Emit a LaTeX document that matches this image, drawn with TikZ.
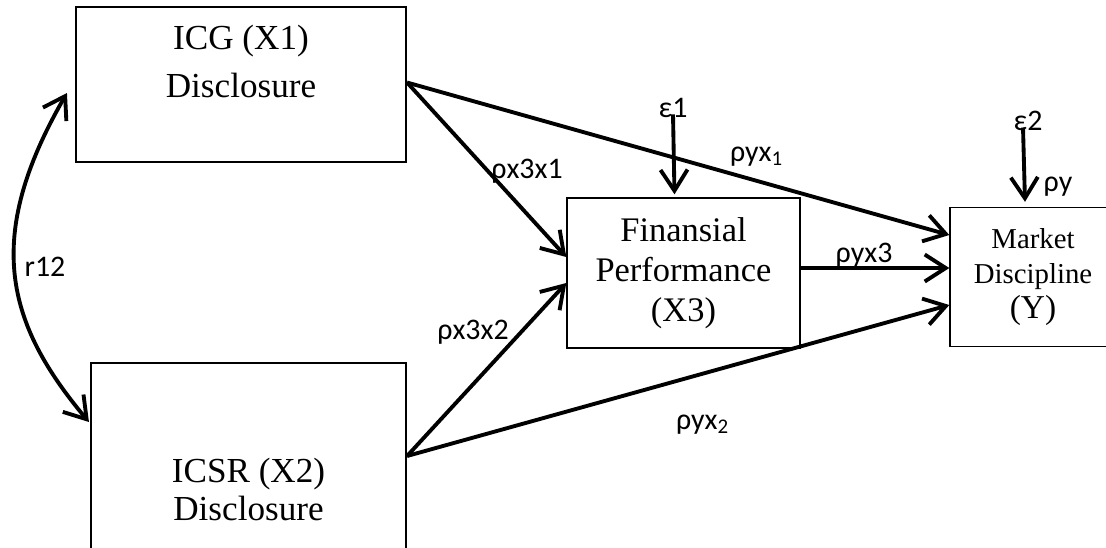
\documentclass[tikz,border=0pt]{standalone}
\usepackage{fontspec}
\setmainfont{Liberation Serif}
\newfontfamily\lblfont{Carlito}
\usetikzlibrary{arrows.meta,positioning}

\begin{document}
\begin{tikzpicture}[>={Straight Barb[length=2.1mm,width=2.7mm]},
  box/.style={rectangle, draw, line width=0.6pt, inner sep=0pt},
  txt/.style={align=center, inner sep=0pt},
  lbl/.style={font=\lblfont\fontsize{8.5}{10}\selectfont, inner sep=0pt},
  arr/.style={->, line width=1.1pt}]

\useasboundingbox (0,0) rectangle (11.06,5.47);

% Variabili
\node[box, minimum width=3.30cm, minimum height=1.55cm] (icg) at (2.41,4.625) {};
\node[txt, below=1.8mm of icg.north, font=\fontsize{10}{13.7}\selectfont] (icgtxt) {ICG (X1)\\Disclosure};
\node[box, minimum width=3.15cm, minimum height=1.86cm] (icsr) at (2.485,0.91) {};
\node[txt, below=9.5mm of icsr.north, font=\fontsize{10}{10.8}\selectfont] (icsrtxt) {ICSR (X2)\\Disclosure};
\node[box, line width=0.4pt, minimum width=2.33cm, minimum height=1.50cm, txt, font=\fontsize{9.8}{11.4}\selectfont] (fp) at (6.835,2.74) {Finansial\\Performance\\(X3)};
\node[box, line width=0.4pt, minimum width=1.66cm, minimum height=1.39cm, txt, font=\fontsize{8.2}{10}\selectfont] (md) at (10.33,2.70) {Market\\Discipline\\{\fontsize{9.5}{10}\selectfont (Y)}};

% Errori
\node[lbl] (e1) at (6.73,4.39) {ε1};
\node[lbl] (e2) at (10.28,4.26) {ε2};

% Coefficienti
\node[lbl] (r12) at (0.45,2.80) {r12};
\node[lbl] (px31) at (5.27,3.76) {ρx3x1};
\node[lbl] (px32) at (4.73,2.15) {ρx3x2};
\node[lbl] (pyx1) at (7.57,3.90) {ρyx\textsubscript{1}};
\node[lbl] (pyx2) at (7.03,1.22) {ρyx\textsubscript{2}};
\node[lbl] (pyx3) at (8.64,2.92) {ρyx3};
\node[lbl] (py) at (10.58,3.60) {ρy};

% Frecce
\draw[arr, <->] ([xshift=-0.1mm,yshift=3.4mm]icsr.west) to[out=130, in=-120, out looseness=1.0, in looseness=1.3] ([xshift=-0.8mm,yshift=-0.85mm]icg.west);
\draw[arr] ([yshift=0.2mm]icg.east) -- ([yshift=1.6mm]fp.west);
\draw[arr] ([yshift=0.2mm]icg.east) -- ([yshift=4.2mm]md.west);
\draw[arr] (icsr.east) -- ([yshift=-1mm]fp.west);
\draw[arr] (icsr.east) -- ([yshift=-2.8mm]md.west);
\draw[arr] ([yshift=0.5mm]fp.east) -- ([yshift=0.9mm]md.west);
\draw[arr] ([yshift=0.4mm]e1.south) -- ([xshift=-0.9mm,yshift=0.3mm]fp.north);
\draw[arr] ([xshift=-0.5mm,yshift=0.4mm]e2.south) -- ([xshift=-0.8mm,yshift=0.5mm]md.north);
\end{tikzpicture}
\end{document}
